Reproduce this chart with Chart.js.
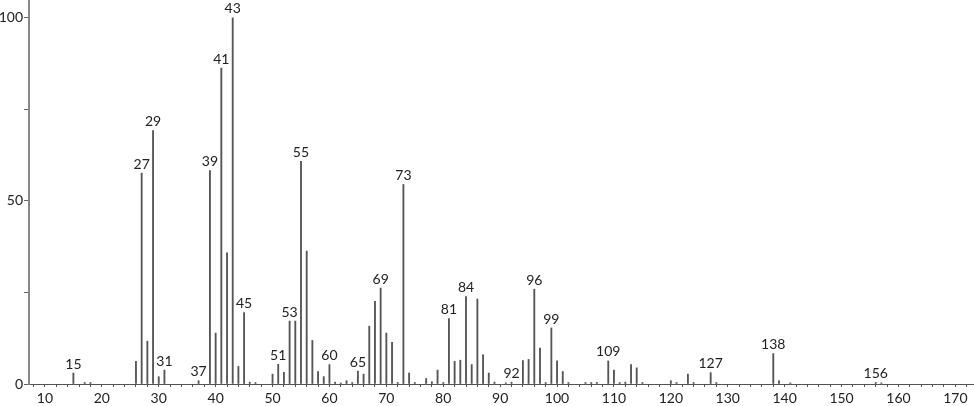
<!DOCTYPE html>
<html>
<head>
<meta charset="utf-8">
<script src="https://cdn.jsdelivr.net/npm/chart.js@4/dist/chart.umd.min.js"></script>
<style>
  html, body { margin: 0; padding: 0; background: #fff; }
  #wrap { width: 974px; height: 406px; position: relative; }
</style>
</head>
<body>
<div id="wrap"><canvas id="spectrum"></canvas></div>
<script>
// m/z values and relative intensities (%)
const mz = [15, 17, 18, 26, 27, 28, 29, 30, 31, 37, 39, 40, 41, 42, 43, 44, 45, 46, 47,
  50, 51, 52, 53, 54, 55, 56, 57, 58, 59, 60, 61, 62, 63, 64, 65, 66, 67, 68, 69, 70,
  71, 72, 73, 74, 75, 77, 78, 79, 80, 81, 82, 83, 84, 85, 86, 87, 88, 89, 91, 92,
  94, 95, 96, 97, 98, 99, 100, 101, 102, 105, 106, 107, 109, 110, 111, 112, 113, 114, 115,
  120, 121, 123, 124, 127, 128, 138, 139, 141, 156, 157];
const intensity = [3.0, 0.4, 0.4, 6.2, 57.6, 11.7, 69.2, 2.0, 3.8, 0.9, 58.3, 13.9, 86.3, 35.8, 100, 4.8, 19.5, 0.5, 0.4,
  2.7, 5.4, 3.2, 17.2, 17.2, 60.8, 36.3, 11.9, 3.4, 2.0, 5.3, 0.5, 0.3, 0.9, 0.4, 3.5, 2.7, 15.8, 22.6, 26.2, 13.9,
  11.4, 0.4, 54.5, 3.0, 0.4, 1.5, 0.6, 3.8, 0.4, 17.9, 6.2, 6.5, 23.9, 5.3, 23.2, 8.0, 3.0, 0.5, 0.3, 0.5,
  6.4, 6.7, 25.9, 9.8, 0.4, 15.3, 6.3, 3.4, 0.4, 0.4, 0.4, 0.4, 6.3, 3.8, 0.4, 0.5, 5.3, 4.4, 0.4,
  0.9, 0.4, 2.7, 0.4, 3.1, 0.4, 8.3, 0.9, 0.3, 0.4, 0.3];
// peaks that carry an m/z label
const labelledPeaks = [15, 27, 29, 31, 37, 39, 41, 43, 45, 51, 53, 55, 60, 65, 69, 73,
  81, 84, 92, 96, 99, 109, 127, 138, 156];
const xTickLabels = [10, 20, 30, 40, 50, 60, 70, 80, 90, 100, 110, 120, 130, 140, 150, 160, 170];
const yTickLabels = [0, 50, 100];

const FONT = "Lato, 'DejaVu Sans', sans-serif";

// draws the m/z number above each labelled peak
const peakLabels = {
  id: "peakLabels",
  afterDatasetsDraw(chart) {
    const meta = chart.getDatasetMeta(0);
    const ctx = chart.ctx;
    ctx.save();
    ctx.font = "14px " + FONT;
    ctx.fillStyle = "#222";
    ctx.textAlign = "center";
    ctx.textBaseline = "bottom";
    mz.forEach((m, i) => {
      if (!labelledPeaks.includes(m)) return;
      const bar = meta.data[i];
      ctx.fillText(String(m), bar.x, bar.y - 2);
    });
    ctx.restore();
  }
};

new Chart(document.getElementById("spectrum"), {
  type: "bar",
  data: {
    datasets: [{
      data: mz.map((m, i) => ({ x: m, y: intensity[i] })),
      backgroundColor: "#555",
      barThickness: 1.2
    }]
  },
  options: {
    responsive: true,
    maintainAspectRatio: false,
    animation: false,
    layout: { padding: { top: 0, right: 1, left: 0, bottom: 0 } },
    plugins: { legend: { display: false }, tooltip: { enabled: false } },
    scales: {
      x: {
        type: "linear",
        min: 7.2,
        max: 173.1,
        offset: false,
        afterFit: s => { s.height = 22; s.paddingLeft = 0; s.paddingRight = 0; },
        border: { display: true, color: "#555", width: 1 },
        grid: { display: true, offset: false, drawOnChartArea: false, tickLength: 3, color: "#555" },
        ticks: {
          stepSize: 2,
          includeBounds: false,
          autoSkip: false,
          maxTicksLimit: 200,
          maxRotation: 0,
          padding: 3,
          color: "#222",
          font: { family: FONT, size: 14 },
          callback: v => xTickLabels.includes(v) ? String(v) : ""
        }
      },
      y: {
        min: 0,
        max: 104.9,
        afterFit: s => { s.width = 29; s.paddingTop = 0; s.paddingBottom = 0; },
        border: { display: true, color: "#888", width: 2 },
        grid: { display: true, drawOnChartArea: false, tickLength: 5, color: "#666" },
        ticks: {
          stepSize: 25,
          includeBounds: false,
          padding: 1,
          color: "#222",
          font: { family: FONT, size: 14 },
          callback: v => yTickLabels.includes(v) ? String(v) : ""
        }
      }
    }
  },
  plugins: [peakLabels]
});
</script>
</body>
</html>
